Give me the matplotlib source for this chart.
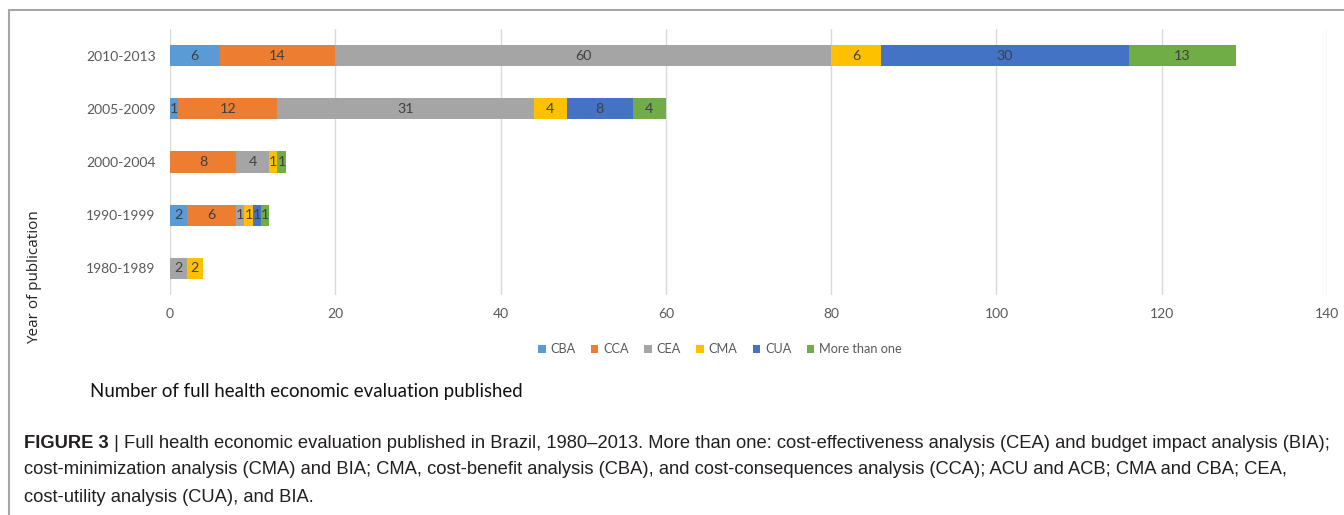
import matplotlib
matplotlib.use("Agg")
import matplotlib.pyplot as plt
from matplotlib.patches import Patch
from matplotlib.lines import Line2D
import numpy as np

categories = ["1980-1989", "1990-1999", "2000-2004", "2005-2009", "2010-2013"]
series_names = ["CBA", "CCA", "CEA", "CMA", "CUA", "More than one"]
CBA = [0, 2, 0, 1, 6]
CCA = [0, 6, 8, 12, 14]
CEA = [2, 1, 4, 31, 60]
CMA = [2, 1, 1, 4, 6]
CUA = [0, 1, 0, 8, 30]
MORE = [0, 1, 1, 4, 13]
series_values = [CBA, CCA, CEA, CMA, CUA, MORE]
colors = ["#5B9BD5", "#ED7D31", "#A5A5A5", "#FFC000", "#4472C4", "#70AD47"]
xticks = [0, 20, 40, 60, 80, 100, 120, 140]

W, H = 1344, 515
fig = plt.figure(figsize=(W / 100, H / 100), dpi=100)
ax = fig.add_axes([170 / W, 1 - 295 / H, (1327 - 170) / W, 266 / H])

calib = ["Lato", "DejaVu Sans"]
y = np.arange(len(categories))
left = np.zeros(len(categories))
for name, vals, c in zip(series_names, series_values, colors):
    vals = np.array(vals, dtype=float)
    ax.barh(y, vals, left=left, height=0.4, color=c, label=name, zorder=3)
    for yi, (l, v) in enumerate(zip(left, vals)):
        if v > 0:
            ax.text(l + v / 2, yi, f"{int(v)}", ha="center", va="center",
                    fontsize=10.3, color="#404040", family=calib, zorder=4)
    left += vals

ax.set_xlim(0, 140)
ax.set_ylim(-0.5, len(categories) - 0.5)
ax.set_yticks(y)
ax.set_yticklabels(categories, family=calib, fontsize=10, color="#595959")
ax.set_xticks(xticks)
ax.set_xticklabels([str(t) for t in xticks], family=calib, fontsize=10, color="#595959")
ax.tick_params(length=0)
ax.tick_params(axis="y", pad=10.4)
ax.tick_params(axis="x", pad=9)
ax.grid(axis="x", color="#D9D9D9", linewidth=1, zorder=0)
for s in ax.spines.values():
    s.set_visible(False)

handles = [Patch(facecolor=c, edgecolor="none") for c in colors]
fig.legend(handles, series_names, loc="center", bbox_to_anchor=(720 / W, 1 - 349 / H),
           ncol=6, frameon=False, handlelength=0.6, handleheight=0.6, handletextpad=0.4,
           columnspacing=1.2, prop={"family": calib, "size": 9.1}, labelcolor="#595959")

fig.text(35 / W, 1 - 277 / H, "Year of publication", rotation=90, ha="center", va="center",
         fontsize=11, family=["Open Sans", "DejaVu Sans"], color="#222222")
fig.text(90 / W, 1 - 391 / H, "Number of full health economic evaluation published",
         ha="left", va="center", fontsize=13.4, family=calib, color="#111111")

# border
fig.add_artist(Line2D([9 / W, 1], [1 - 10 / H, 1 - 10 / H], color="#A6A6A6", lw=1.5))
fig.add_artist(Line2D([9 / W, 9 / W], [0, 1 - 10 / H], color="#A6A6A6", lw=1.5))

# caption
cap_font = ["Liberation Sans", "DejaVu Sans"]
cap_size = 13.2
x0 = 24 / W
y1 = 1 - 443 / H
t_bold = fig.text(x0, y1, "FIGURE 3", ha="left", va="center", fontsize=cap_size,
                  fontweight="bold", family=cap_font, color="#231F20")
fig.canvas.draw()
bb = t_bold.get_window_extent(renderer=fig.canvas.get_renderer())
fig.text(bb.x1 / W, y1, " | Full health economic evaluation published in Brazil, 1980\u20132013. More than one: cost-effectiveness analysis (CEA) and budget impact analysis (BIA);",
         ha="left", va="center", fontsize=cap_size, family=cap_font, color="#231F20")
fig.text(x0, 1 - 470 / H, "cost-minimization analysis (CMA) and BIA; CMA, cost-benefit analysis (CBA), and cost-consequences analysis (CCA); ACU and ACB; CMA and CBA; CEA,",
         ha="left", va="center", fontsize=cap_size, family=cap_font, color="#231F20")
fig.text(x0, 1 - 497 / H, "cost-utility analysis (CUA), and BIA.",
         ha="left", va="center", fontsize=cap_size, family=cap_font, color="#231F20")

fig.savefig("out.png", dpi=100)
